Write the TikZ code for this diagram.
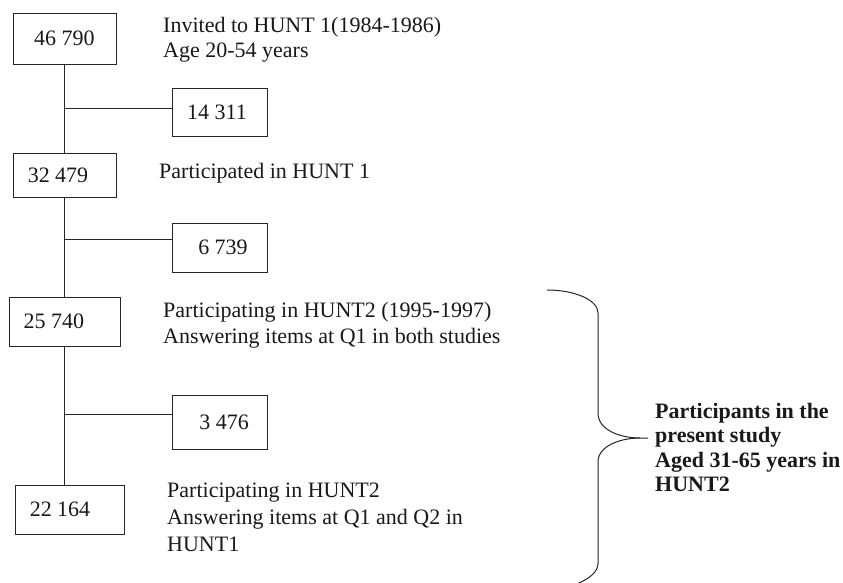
\documentclass[tikz,border=0pt]{standalone}
\usepackage{fontspec}
\setmainfont{Liberation Serif}
\begin{document}
\begin{tikzpicture}[x=1pt,y=-1pt,
  box/.style={draw=black!85, line width=1pt, inner sep=0pt, font=\fontsize{22}{25}\selectfont, text=black!90},
  desc/.style={anchor=base west, align=left, inner sep=0pt, font=\fontsize{22}{26}\selectfont, text=black!90},
  link/.style={draw=black!85, line width=1pt}]
\useasboundingbox (0,0) rectangle (843,582);
\clip (0,0) rectangle (843,582);
\fill[white] (0,0) rectangle (843,582);
% boxes
\node[box, minimum width=103, minimum height=51] (b1) at (64.5,38.5) {46 790};
\node[box, minimum width=95, minimum height=48] (b2) at (219.5,112) {\hspace*{-5pt}14 311};
\node[box, minimum width=103, minimum height=44] (b3) at (64.5,175) {\hspace*{-13pt}32 479};
\node[box, minimum width=95, minimum height=49] (b4) at (219.5,247.5) {\hspace*{7pt}6 739};
\node[box, minimum width=111, minimum height=49] (b5) at (64.5,321.5) {\hspace*{-21pt}25 740};
\node[box, minimum width=95, minimum height=54] (b6) at (219.5,422) {\hspace*{9pt}3 476};
\node[box, minimum width=109, minimum height=49] (b7) at (69.5,509.5) {\hspace*{-19pt}22 164};
% trunk
\draw[link] (b1) -- (b3);
\draw[link] (b3) -- (b5);
\draw[link] (b5.south) -- (b5.south |- b7.north);
% branches
\coordinate (j1) at (64.5,108);
\coordinate (j2) at (64.5,239);
\coordinate (j3) at (64.5,414);
\draw[link] (j1) -- (j1 -| b2.west);
\draw[link] (j2) -- (j2 -| b4.west);
\draw[link] (j3) -- (j3 -| b6.west);
% descriptions (base anchor = last line's baseline)
\node[desc, font=\fontsize{22}{25}\selectfont] (t1) at (163,57) {Invited to HUNT 1(1984-1986)\\Age 20-54 years};
\node[desc] (t2) at (159,178) {Participated in HUNT 1};
\node[desc] (t3) at (163,343) {Participating in HUNT2 (1995-1997)\\Answering items at Q1 in both studies};
\node[desc, font=\fontsize{22}{27}\selectfont] (t4) at (167,551) {Participating in HUNT2\\Answering items at Q1 and Q2 in\\HUNT1};
\node[desc, font=\fontsize{22}{24.5}\selectfont\bfseries] (t5) at (655,491.5) {Participants in the\\present study\\Aged 31-65 years in\\HUNT2};
% brace
\coordinate (tip) at (648,438);
\draw[link] (547,290) .. controls (575,290) and (598,300) .. (598,313) -- (598,413)
  .. controls (598,430) and (620,438) .. (640,438) -- (tip);
\draw[link] (640,438) .. controls (620,438) and (598,446) .. (598,462) -- (598,563)
  .. controls (598,572) and (590,579) .. (572,586);
\end{tikzpicture}
\end{document}
